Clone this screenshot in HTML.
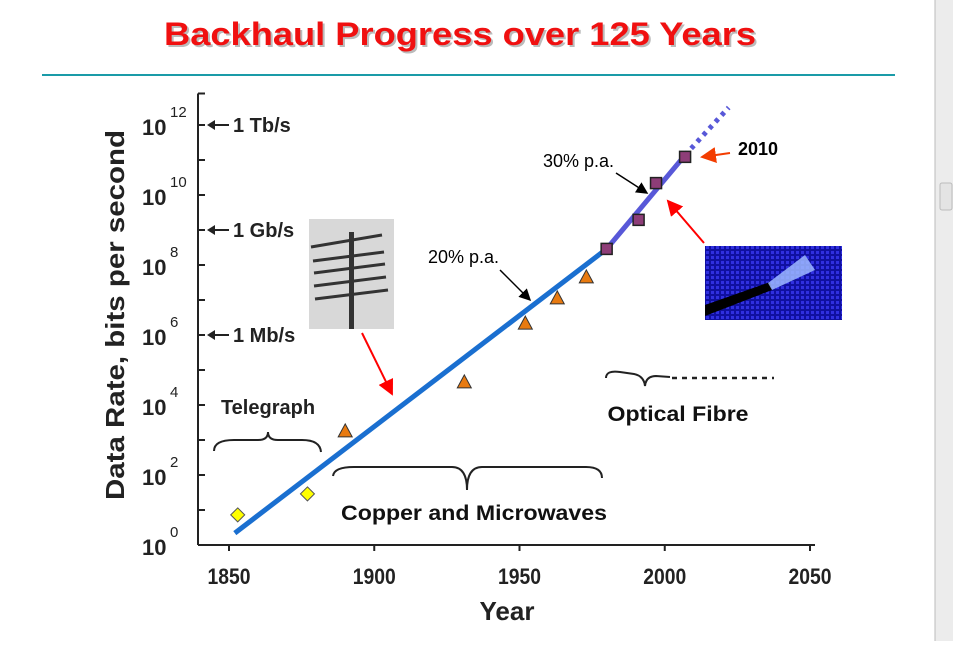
<!DOCTYPE html>
<html><head><meta charset="utf-8"><style>
body{margin:0;width:953px;height:641px;overflow:hidden;background:#fff;font-family:"Liberation Sans",sans-serif;}
</style></head><body>
<svg width="953" height="641" viewBox="0 0 953 641" xmlns="http://www.w3.org/2000/svg">
<defs>
<marker id="ab" markerWidth="8" markerHeight="8" refX="7" refY="4" orient="auto"><path d="M0,0 L8,4 L0,8 z" fill="#000"/></marker>
<marker id="ar" markerWidth="8" markerHeight="8" refX="7" refY="4" orient="auto"><path d="M0,0 L8,4 L0,8 z" fill="#f00"/></marker>
<marker id="ao" markerWidth="8" markerHeight="8" refX="7" refY="4" orient="auto"><path d="M0,0 L8,4 L0,8 z" fill="#f33d00"/></marker>
<pattern id="grid" width="5" height="5" patternUnits="userSpaceOnUse"><rect width="5" height="5" fill="#1010a0"/><rect x="1" y="1" width="3" height="3" fill="#3030e0"/></pattern>
</defs>
<rect x="935" y="0" width="18" height="641" fill="#ececec"/>
<line x1="935" y1="0" x2="935" y2="641" stroke="#bbb"/>
<rect x="940" y="183" width="12" height="27" rx="2" fill="#e4e4e4" stroke="#bbb"/>
<text x="462" y="47" text-anchor="middle" font-size="32" font-weight="bold" fill="#bbb" textLength="592" lengthAdjust="spacingAndGlyphs">Backhaul Progress over 125 Years</text>
<text x="460" y="45" text-anchor="middle" font-size="32" font-weight="bold" fill="#f01010" textLength="592" lengthAdjust="spacingAndGlyphs">Backhaul Progress over 125 Years</text>
<line x1="42" y1="75" x2="895" y2="75" stroke="#1a9ba8" stroke-width="2"/>
<g id="axes"></g>
<g id="marks"></g>
<text transform="translate(124,315) rotate(-90)" text-anchor="middle" font-size="26" font-weight="bold" fill="#222" textLength="370" lengthAdjust="spacingAndGlyphs">Data Rate, bits per second</text>
<text x="507" y="620" text-anchor="middle" font-size="26" font-weight="bold" fill="#222">Year</text>
<g>
<rect x="309" y="219" width="85" height="110" fill="#d8d8d8"/>
<rect x="349" y="232" width="5" height="97" fill="#333"/>
<g stroke="#333" stroke-width="3"><line x1="311" y1="247" x2="382" y2="235"/><line x1="313" y1="261" x2="384" y2="252"/><line x1="314" y1="273" x2="385" y2="264"/><line x1="314" y1="286" x2="386" y2="277"/><line x1="315" y1="299" x2="388" y2="290"/></g>
</g>
<g>
<rect x="705" y="246" width="137" height="74" fill="url(#grid)"/>
<path d="M705,305 L770,282 L772,290 L705,316 z" fill="#000"/>
<path d="M768,283 L805,255 L815,270 L772,290 z" fill="#9db8ff" opacity="0.85"/>
</g>
<line x1="362" y1="333" x2="392" y2="394" stroke="#f00" stroke-width="2" marker-end="url(#ar)"/>
<line x1="704" y1="243" x2="668" y2="201" stroke="#f00" stroke-width="2" marker-end="url(#ar)"/>
<line x1="730" y1="153" x2="702" y2="157" stroke="#f33d00" stroke-width="2" marker-end="url(#ao)"/>
<text x="738" y="155" font-size="18" font-weight="bold">2010</text>
<text x="543" y="167" font-size="18">30% p.a.</text>
<line x1="616" y1="173" x2="647" y2="193" stroke="#000" stroke-width="1.5" marker-end="url(#ab)"/>
<text x="428" y="263" font-size="18">20% p.a.</text>
<line x1="500" y1="270" x2="530" y2="300" stroke="#000" stroke-width="1.5" marker-end="url(#ab)"/>
<text x="268" y="414" text-anchor="middle" font-size="20" font-weight="bold" fill="#222">Telegraph</text>
<path d="M214,451 Q214,440 234,440 L258,440 Q268,440 268,432 Q268,440 278,440 L302,440 Q320,440 321,452" fill="none" stroke="#222" stroke-width="2"/>
<path d="M333,476 Q334,467 354,467 L452,467 Q467,467 467,490 Q467,467 482,467 L586,467 Q602,467 602,478" fill="none" stroke="#222" stroke-width="2"/>
<text x="474" y="520" text-anchor="middle" font-size="21" font-weight="bold" fill="#111" textLength="266" lengthAdjust="spacingAndGlyphs">Copper and Microwaves</text>
<path d="M606,378 Q606,370 620,372 L634,374 Q644,376 645,386 Q646,376 656,376 L670,377" fill="none" stroke="#222" stroke-width="2"/>
<line x1="672" y1="378" x2="774" y2="378" stroke="#222" stroke-width="2.5" stroke-dasharray="5,5"/>
<text x="678" y="421" text-anchor="middle" font-size="21" font-weight="bold" fill="#111" textLength="141" lengthAdjust="spacingAndGlyphs">Optical Fibre</text>
</svg>
<script>
const xTicks=[1850,1900,1950,2000,2050];
const yExps=[0,2,4,6,8,10,12];
const rateLabels=["1 Mb/s","1 Gb/s","1 Tb/s"];
const rateExps=[6,9,12];
const telegraphYears=[1853,1877];
const telegraphLog=[0.86,1.46];
const copperYears=[1890,1931,1952,1963,1973];
const copperLog=[3.26,4.66,6.34,7.06,7.66];
const fibreYears=[1980,1991,1997,2007];
const fibreLog=[8.46,9.29,10.34,11.09];
const trendYears=[1852,1980];
const trendLog=[0.34,8.46];
const trend2Years=[1980,2007];
const trend2Log=[8.46,11.14];
const projYears=[2007,2022];
const projLog=[11.14,12.5];
const X=y=>229+(y-1850)*2.905;
const Y=e=>545-e*35;
const NS="http://www.w3.org/2000/svg";
function mk(p,t,a){const e=document.createElementNS(NS,t);for(const k in a)e.setAttribute(k,a[k]);p.appendChild(e);return e;}
const ax=document.getElementById('axes'), mg=document.getElementById('marks');
let e=mk(ax,'line',{x1:198,y1:Y(12.9),x2:198,y2:Y(0),stroke:'#222','stroke-width':2});


e=mk(ax,'line',{x1:198,y1:Y(0),x2:815,y2:Y(0),stroke:'#222','stroke-width':2});


mk(ax,'line',{x1:198,y1:Y(12.9),x2:205,y2:Y(12.9),stroke:'#222','stroke-width':2});
for(let i=0;i<=12;i++){e=mk(ax,'line',{x1:198,y1:Y(i),x2:205,y2:Y(i),stroke:'#222','stroke-width':2});

}
xTicks.forEach(t=>{e=mk(ax,'line',{x1:X(t),y1:Y(0),x2:X(t),y2:Y(0)+6,stroke:'#222','stroke-width':2});


e=mk(ax,'text',{x:X(t),y:584,'text-anchor':'middle','font-size':22,'font-weight':'bold',fill:'#222',textLength:43,lengthAdjust:'spacingAndGlyphs'});e.textContent=t;

});
yExps.forEach(p=>{e=mk(ax,'text',{x:142,y:Y(p)+10,'font-size':22,'font-weight':'bold',fill:'#222'});e.textContent='10';


const s=mk(ax,'text',{x:170,y:Y(p)-8,'font-size':15,fill:'#222'});s.textContent=p;});
rateLabels.forEach((l,i)=>{const y=Y(rateExps[i]);
mk(ax,'path',{d:`M207,${y} L215,${y-5} L215,${y+5} z`,fill:'#222'});
mk(ax,'line',{x1:212,y1:y,x2:229,y2:y,stroke:'#222','stroke-width':2});
e=mk(ax,'text',{x:233,y:y+7,'font-size':20,'font-weight':'bold',fill:'#222'});e.textContent=l;

});
e=mk(mg,'line',{x1:X(trendYears[0]),y1:Y(trendLog[0]),x2:X(trendYears[1]),y2:Y(trendLog[1]),stroke:'#1a6fd0','stroke-width':5});


e=mk(mg,'line',{x1:X(trend2Years[0]),y1:Y(trend2Log[0]),x2:X(trend2Years[1]),y2:Y(trend2Log[1]),stroke:'#5858d8','stroke-width':5});


e=mk(mg,'line',{x1:X(projYears[0]),y1:Y(projLog[0]),x2:X(projYears[1]),y2:Y(projLog[1]),stroke:'#5858d8','stroke-width':5,'stroke-dasharray':'4,5'});


telegraphYears.forEach((t,i)=>{const x=X(t),y=Y(telegraphLog[i]);
e=mk(mg,'path',{d:`M${x},${y-7} L${x+7},${y} L${x},${y+7} L${x-7},${y} z`,fill:'#ffff00',stroke:'#555','stroke-width':1});

});
copperYears.forEach((t,i)=>{const x=X(t),y=Y(copperLog[i]);
e=mk(mg,'path',{d:`M${x},${y-7} L${x+7},${y+6} L${x-7},${y+6} z`,fill:'#e87a10',stroke:'#333','stroke-width':1});

});
fibreYears.forEach((t,i)=>{const x=X(t),y=Y(fibreLog[i]);
e=mk(mg,'rect',{x:x-5.5,y:y-5.5,width:11,height:11,fill:'#8e3d78',stroke:'#222','stroke-width':1.5});

});
</script>
</body></html>
